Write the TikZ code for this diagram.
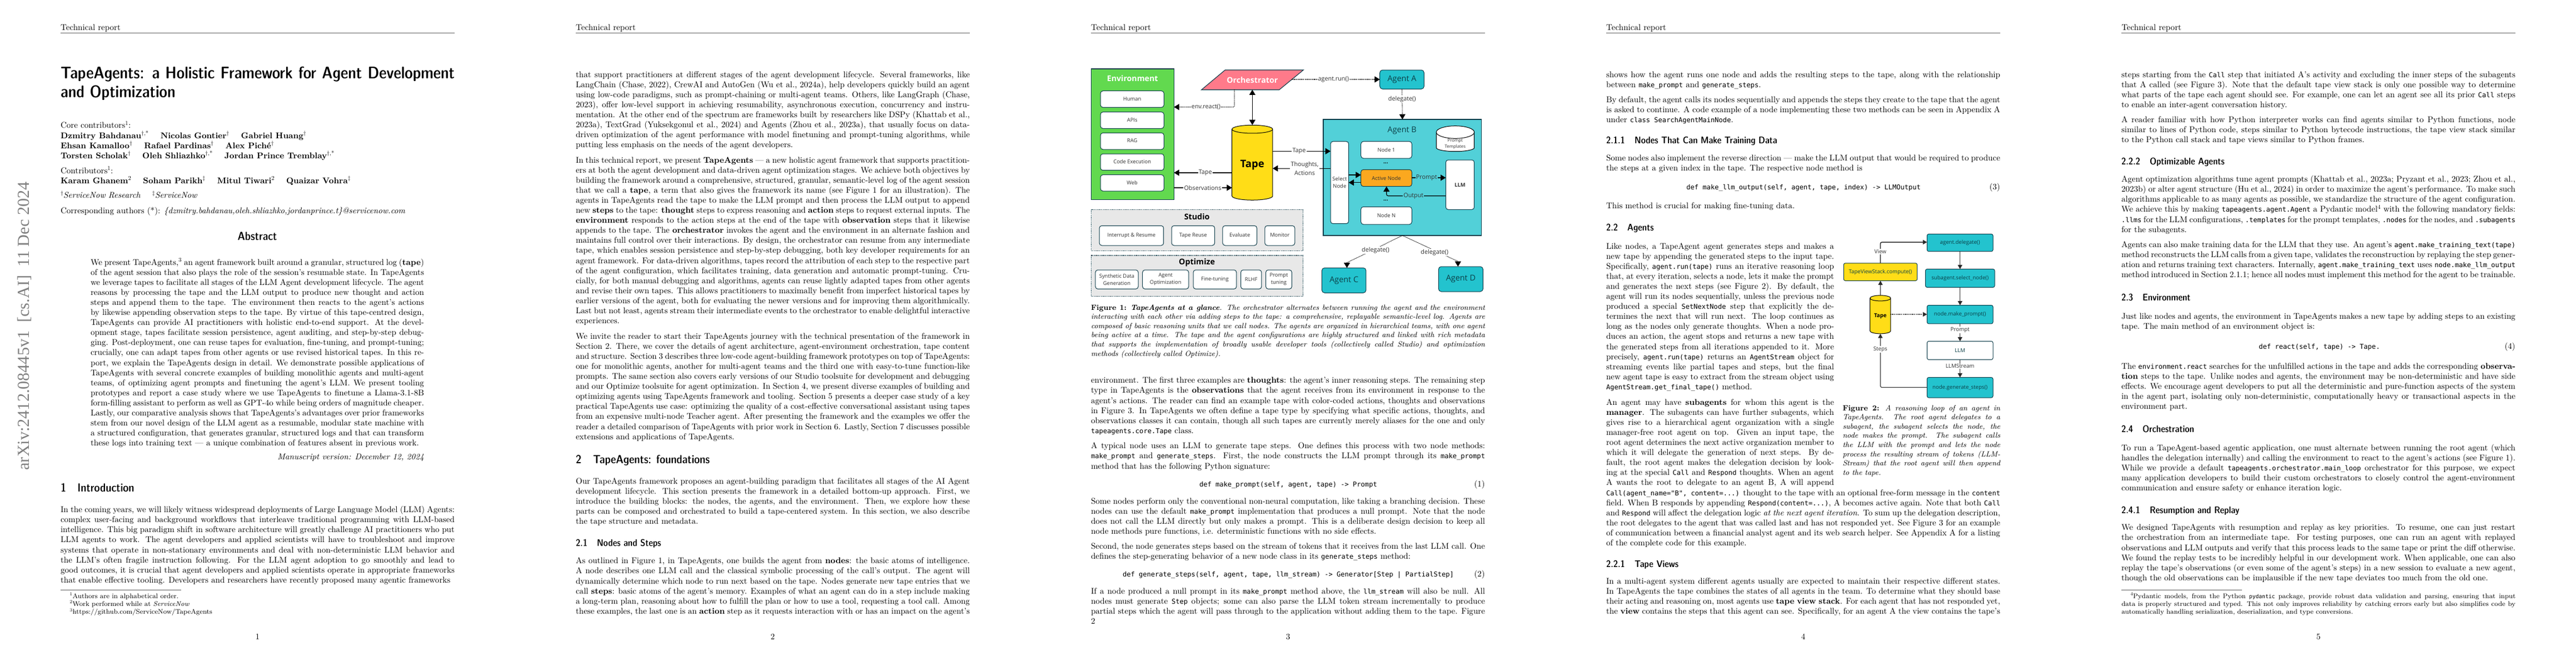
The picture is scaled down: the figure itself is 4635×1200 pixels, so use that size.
\documentclass[tikz,border=0pt]{standalone}
\usepackage{fontspec}
\usetikzlibrary{arrows.meta,shapes.geometric}
\setmainfont{lmroman10-regular.otf}[Ligatures=TeX,BoldFont=lmroman10-bold.otf,ItalicFont=lmroman10-italic.otf,BoldItalicFont=lmroman10-bolditalic.otf]
\newfontfamily\capfont{lmroman9-regular.otf}[Ligatures=TeX,BoldFont=lmroman9-bold.otf,ItalicFont=lmroman9-italic.otf,BoldItalicFont=lmroman10-bolditalic.otf]
\newfontfamily\footfont{lmroman8-regular.otf}[Ligatures=TeX,BoldFont=lmroman8-bold.otf,ItalicFont=lmroman8-italic.otf]
\setmonofont{DejaVu Sans Mono}[Scale=0.8]
\newfontfamily\figfont{Open Sans}
\newfontfamily\stampfont{Liberation Serif}
\newfontfamily\headfont{Latin Modern Sans Demi Cond}
\definecolor{envgreen}{HTML}{62D94F}
\definecolor{orchpink}{HTML}{FF7A8A}
\definecolor{tapeyellow}{HTML}{FFDD17}
\definecolor{agentteal}{HTML}{23C3CE}
\definecolor{agentlight}{HTML}{52D0D8}
\definecolor{activeorange}{HTML}{FBA81F}
\definecolor{panelgray}{HTML}{E8E8E8}
\definecolor{edge}{HTML}{0F3D4A}
\definecolor{figtext}{HTML}{333333}
\definecolor{tealtext}{HTML}{0C4048}
\definecolor{darkline}{HTML}{2A2A2A}
\newcommand{\fsz}[2]{\fontsize{#1}{#2}\selectfont}
\newcommand{\lbk}{\linebreak}
\newcommand{\code}[1]{\texttt{#1}}
\hbadness=10000 \hfuzz=300pt \tolerance=10000
% paragraph placed by the baseline of its first line
\newcommand{\para}[5]{\node[anchor=base west,inner sep=0pt,outer sep=0pt] (#1) at (#2,#3) {\parbox[t]{#4pt}{\fsz{15.09}{18.11}\tolerance=10000\emergencystretch=20pt\parindent=0pt #5\par}};}
\newcommand{\capt}[5]{\node[anchor=base west,inner sep=0pt,outer sep=0pt] (#1) at (#2,#3) {\parbox[t]{#4pt}{\capfont\fsz{13.58}{16.6}\tolerance=10000\emergencystretch=20pt\parindent=0pt #5\par}};}
\newcommand{\oneline}[4]{\node[anchor=base west,inner sep=0pt,outer sep=0pt] (#1) at (#2,#3) {\fsz{15.09}{18.11}#4};}
\newcommand{\hdr}[3]{%
  \node[anchor=base west,inner sep=0pt] (head#1) at (#2,54) {\fsz{15.09}{18.11}Technical report};
  \draw[black!65,line width=0.9pt] (#2,59.3) -- ++(709,0);
  \node[anchor=base,inner sep=0pt] (num#1) at ({#2+354.5},1151) {\fsz{15.09}{18.11}#3};}
% section heads: name, x, dx, y, size, number, title
\newcommand{\sect}[7]{\node[anchor=base west,inner sep=0pt,outer sep=0pt] (#1) at (#2,#4) {\fsz{#5}{#5}\headfont\makebox[#3pt][l]{#6}#7};}
% box from corners: name, x1,y1,x2,y2, style, text
\newcommand{\bx}[7]{\node[#6,minimum width={#4-#2},minimum height={#5-#3}] (#1) at ({(#2+#4)/2},{(#3+#5)/2}) {#7};}
\tikzset{
  base/.style={inner sep=0pt,outer sep=0pt,align=center,font=\figfont\fsz{9.4}{13}\color{figtext}},
  oneln/.style={text height=7.5pt,text depth=2.2pt},
  whitebox/.style={base,draw=edge,fill=white,line width=1pt,rounded corners=4.5pt},
  agentbox/.style={base,draw=edge,fill=agentteal,line width=1pt,rounded corners=5pt,font=\figfont\fsz{14.4}{17}\color{tealtext}},
  flatbox/.style={base,draw=edge,line width=1.2pt},
  panel/.style={base,draw=edge,fill=panelgray,line width=1.1pt,dash pattern=on 1.2pt off 1.2pt},
  edgelabel/.style={inner sep=1.2pt,outer sep=0pt,fill=white,align=center,font=\figfont\fsz{10.8}{15.5}\color{figtext}},
  smalllabel/.style={inner sep=1.2pt,outer sep=0pt,fill=white,align=center,font=\figfont\fsz{9.8}{13}\color{figtext}},
  solidconn/.style={line width=1.1pt,black,-{Triangle[length=9.3pt,width=11pt]},rounded corners=3pt},
  dotconn/.style={line width=1.1pt,black,dash pattern=on 1.2pt off 1.2pt,-{Triangle[length=9.3pt,width=11pt]},rounded corners=2pt},
  bothconn/.style={line width=1.1pt,black,{Triangle[length=9.3pt,width=11pt]}-{Triangle[length=9.3pt,width=11pt]}},
  solidsmall/.style={line width=1.1pt,darkline,-{Triangle[length=7.5pt,width=8pt]},rounded corners=3pt},
  dotsmall/.style={line width=1.1pt,darkline,dash pattern=on 1.2pt off 1.2pt,-{Triangle[length=7.5pt,width=8pt]}},
  tapecyl/.style={cylinder,shape border rotate=90,draw=black,line width=1pt,inner sep=0pt,outer sep=0pt,cylinder uses custom fill,cylinder body fill=tapeyellow,cylinder end fill=tapeyellow},
}
\begin{document}
\begin{tikzpicture}[x=1pt,y=-1pt]
\useasboundingbox (0,0) rectangle (4635,1200);
\fill[white] (0,0) rectangle (4635,1200);

%%%%%%%%%%%%%%%% PAGE 1
\hdr{A}{109}{1}
\node[rotate=90,anchor=base,inner sep=0pt,text=black!50] (stamp) at (52,587) {\stampfont\fsz{30.2}{30.2}arXiv:2412.08445v1\ \ [cs.AI]\ \ 11 Dec 2024};
\node[anchor=base west,inner sep=0pt] (title) at (109,141.6) {\parbox[t]{709pt}{\fsz{30.2}{33.4}\headfont\parindent=0pt TapeAgents: a Holistic Framework for Agent Development\lbk and Optimization\par}};
\oneline{core}{109}{230.8}{Core contributors\textsuperscript{1}:}
\oneline{auA}{109}{249}{\textbf{Dzmitry Bahdanau}\textsuperscript{†,*}\hspace{21pt}\textbf{Nicolas Gontier}\textsuperscript{†}\hspace{21pt}\textbf{Gabriel Huang}\textsuperscript{†}}
\oneline{auB}{109}{267}{\textbf{Ehsan Kamalloo}\textsuperscript{†}\hspace{21pt}\textbf{Rafael Pardinas}\textsuperscript{†}\hspace{21pt}\textbf{Alex Piché}\textsuperscript{†}}
\oneline{auC}{109}{285}{\textbf{Torsten Scholak}\textsuperscript{†}\hspace{21pt}\textbf{Oleh Shliazhko}\textsuperscript{†,*}\hspace{21pt}\textbf{Jordan Prince Tremblay}\textsuperscript{†,*}}
\oneline{contrib}{109}{312}{Contributors\textsuperscript{1}:}
\oneline{auD}{109}{330}{\textbf{Karam Ghanem}\textsuperscript{2}\hspace{21pt}\textbf{Soham Parikh}\textsuperscript{‡}\hspace{21pt}\textbf{Mitul Tiwari}\textsuperscript{2}\hspace{21pt}\textbf{Quaizar Vohra}\textsuperscript{‡}}
\oneline{aff}{109}{356.5}{\textsuperscript{†}\textit{ServiceNow Research}\hspace{21pt}\textsuperscript{‡}\textit{ServiceNow}}
\oneline{corr}{109}{384.6}{Corresponding authors (*): \textit{\{dzmitry.bahdanau,oleh.shliazhko,jordanprince.t\}@servicenow.com}}
\node[anchor=base,inner sep=0pt] (abshead) at (463,432.5) {\fsz{21}{21}\headfont Abstract};
\para{abs}{163}{477}{600}{We present TapeAgents,\textsuperscript{3} an agent framework built around a granular, structured log (\textbf{tape})\lbk
of the agent session that also plays the role of the session’s resumable state. In TapeAgents\lbk
we leverage tapes to facilitate all stages of the LLM Agent development lifecycle. The agent\lbk
reasons by processing the tape and the LLM output to produce new thought and action\lbk
steps and append them to the tape. The environment then reacts to the agent’s actions\lbk
by likewise appending observation steps to the tape. By virtue of this tape-centred design,\lbk
TapeAgents can provide AI practitioners with holistic end-to-end support. At the devel-\lbk
opment stage, tapes facilitate session persistence, agent auditing, and step-by-step debug-\lbk
ging. Post-deployment, one can reuse tapes for evaluation, fine-tuning, and prompt-tuning;\lbk
crucially, one can adapt tapes from other agents or use revised historical tapes. In this re-\lbk
port, we explain the TapeAgents design in detail. We demonstrate possible applications of\lbk
TapeAgents with several concrete examples of building monolithic agents and multi-agent\lbk
teams, of optimizing agent prompts and finetuning the agent’s LLM. We present tooling\lbk
prototypes and report a case study where we use TapeAgents to finetune a Llama-3.1-8B\lbk
form-filling assistant to perform as well as GPT-4o while being orders of magnitude cheaper.\lbk
Lastly, our comparative analysis shows that TapeAgents’s advantages over prior frameworks\lbk
stem from our novel design of the LLM agent as a resumable, modular state machine with\lbk
a structured configuration, that generates granular, structured logs and that can transform\lbk
these logs into training text — a unique combination of features absent in previous work.}
\node[anchor=base east,inner sep=0pt] (msv) at (763,827) {\fsz{15.09}{18.11}\textit{Manuscript version: December 12, 2024}};
\sect{secA}{109}{30.4}{885.5}{21.1}{1}{Introduction}
\para{intro}{109}{922.6}{709}{In the coming years, we will likely witness widespread deployments of Large Language Model (LLM) Agents:\lbk
complex user-facing and background workflows that interleave traditional programming with LLM-based\lbk
intelligence. This big paradigm shift in software architecture will greatly challenge AI practitioners who put\lbk
LLM agents to work. The agent developers and applied scientists will have to troubleshoot and improve\lbk
systems that operate in non-stationary environments and deal with non-deterministic LLM behavior and\lbk
the LLM’s often fragile instruction following. For the LLM agent adoption to go smoothly and lead to\lbk
good outcomes, it is crucial that agent developers and applied scientists operate in appropriate frameworks\lbk
that enable effective tooling. Developers and researchers have recently proposed many agentic frameworks}
\draw[black!65,line width=0.7pt] (109,1062.7) -- (326,1062.7);
\node[anchor=base west,inner sep=0pt] (fnA) at (125.5,1077) {\footfont\fsz{12.07}{14.2}\textsuperscript{1}Authors are in alphabetical order.};
\node[anchor=base west,inner sep=0pt] (fnB) at (125.5,1091.3) {\footfont\fsz{12.07}{14.2}\textsuperscript{2}Work performed while at \textit{ServiceNow}};
\node[anchor=base west,inner sep=0pt] (fnC) at (125.5,1105.5) {\footfont\fsz{12.07}{14.2}\textsuperscript{3}https://github.com/ServiceNow/TapeAgents};

%%%%%%%%%%%%%%%% PAGE 2
\hdr{B}{1036}{2}
\para{pbA}{1036}{139}{709}{that support practitioners at different stages of the agent development lifecycle. Several frameworks, like\lbk
LangChain (Chase, 2022), CrewAI and AutoGen (Wu et al., 2024a), help developers quickly build an agent\lbk
using low-code paradigms, such as prompt-chaining or multi-agent teams. Others, like LangGraph (Chase,\lbk
2023), offer low-level support in achieving resumability, asynchronous execution, concurrency and instru-\lbk
mentation. At the other end of the spectrum are frameworks built by researchers like DSPy (Khattab et al.,\lbk
2023a), TextGrad (Yuksekgonul et al., 2024) and Agents (Zhou et al., 2023a), that usually focus on data-\lbk
driven optimization of the agent performance with model finetuning and prompt-tuning algorithms, while\lbk
putting less emphasis on the needs of the agent developers.}
\para{pbB}{1036}{293}{709}{In this technical report, we present \textbf{TapeAgents} — a new holistic agent framework that supports practition-\lbk
ers at both the agent development and data-driven agent optimization stages. We achieve both objectives by\lbk
building the framework around a comprehensive, structured, granular, semantic-level log of the agent session\lbk
that we call a \textbf{tape}, a term that also gives the framework its name (see Figure 1 for an illustration). The\lbk
agents in TapeAgents read the tape to make the LLM prompt and then process the LLM output to append\lbk
new \textbf{steps} to the tape: \textbf{thought} steps to express reasoning and \textbf{action} steps to request external inputs. The\lbk
\textbf{environment} responds to the action steps at the end of the tape with \textbf{observation} steps that it likewise\lbk
appends to the tape. The \textbf{orchestrator} invokes the agent and the environment in an alternate fashion and\lbk
maintains full control over their interactions. By design, the orchestrator can resume from any intermediate\lbk
tape, which enables session persistence and step-by-step debugging, both key developer requirements for an\lbk
agent framework. For data-driven algorithms, tapes record the attribution of each step to the respective part\lbk
of the agent configuration, which facilitates training, data generation and automatic prompt-tuning. Cru-\lbk
cially, for both manual debugging and algorithms, agents can reuse lightly adapted tapes from other agents\lbk
and revise their own tapes. This allows practitioners to maximally benefit from imperfect historical tapes by\lbk
earlier versions of the agent, both for evaluating the newer versions and for improving them algorithmically.\lbk
Last but not least, agents stream their intermediate events to the orchestrator to enable delightful interactive\lbk
experiences.}
\para{pbC}{1036}{610}{709}{We invite the reader to start their TapeAgents journey with the technical presentation of the framework in\lbk
Section 2. There, we cover the details of agent architecture, agent-environment orchestration, tape content\lbk
and structure. Section 3 describes three low-code agent-building framework prototypes on top of TapeAgents:\lbk
one for monolithic agents, another for multi-agent teams and the third one with easy-to-tune function-like\lbk
prompts. The same section also covers early versions of our Studio toolsuite for development and debugging\lbk
and our Optimize toolsuite for agent optimization. In Section 4, we present diverse examples of building and\lbk
optimizing agents using TapeAgents framework and tooling. Section 5 presents a deeper case study of a key\lbk
practical TapeAgents use case: optimizing the quality of a cost-effective conversational assistant using tapes\lbk
from an expensive multi-node Teacher agent. After presenting the framework and the examples we offer the\lbk
reader a detailed comparison of TapeAgents with prior work in Section 6. Lastly, Section 7 discusses possible\lbk
extensions and applications of TapeAgents.}
\sect{secB}{1036}{31}{834.6}{21.1}{2}{TapeAgents: foundations}
\para{pbD}{1036}{871}{709}{Our TapeAgents framework proposes an agent-building paradigm that facilitates all stages of the AI Agent\lbk
development lifecycle. This section presents the framework in a detailed bottom-up approach. First, we\lbk
introduce the building blocks: the nodes, the agents, and the environment. Then, we explore how these\lbk
parts can be composed and orchestrated to build a tape-centered system. In this section, we also describe\lbk
the tape structure and metadata.}
\sect{secC}{1036}{38}{983}{17.3}{2.1}{Nodes and Steps}
\para{pbE}{1036}{1014.8}{709}{As outlined in Figure 1, in TapeAgents, one builds the agent from \textbf{nodes}: the basic atoms of intelligence.\lbk
A node describes one LLM call and the classical symbolic processing of the call’s output. The agent will\lbk
dynamically determine which node to run next based on the tape. Nodes generate new tape entries that we\lbk
call \textbf{steps}: basic atoms of the agent’s memory. Examples of what an agent can do in a step include making\lbk
a long-term plan, reasoning about how to fulfill the plan or how to use a tool, requesting a tool call. Among\lbk
these examples, the last one is an \textbf{action} step as it requests interaction with or has an impact on the agent’s}

%%%%%%%%%%%%%%%% PAGE 3
\hdr{C}{1963}{3}
% Figure 1
\bx{env}{1963.8}{124}{2112.3}{359.3}{flatbox,fill=envgreen}{}
\node[base,font=\figfont\bfseries\fsz{14.2}{17}\color{white}] (envtitle) at (2037.7,140.7) {Environment};
\bx{human}{1980}{163.7}{2094.3}{193.3}{whitebox,oneln}{Human}
\bx{apis}{1980}{201.7}{2094.3}{231.3}{whitebox,oneln}{APIs}
\bx{rag}{1980}{239.3}{2094.3}{269}{whitebox,oneln}{RAG}
\bx{codeex}{1980}{277}{2094.3}{306.7}{whitebox,oneln}{Code Execution}
\bx{web}{1980}{314.7}{2094.3}{344}{whitebox,oneln}{Web}
\draw[edge,line width=1.1pt,fill=orchpink] (2204.3,126) -- (2345.2,126) -- (2301.7,161.7) -- (2161.7,161.7) -- cycle;
\node[base,font=\figfont\bfseries\fsz{14.2}{17}\color{white},minimum width=140pt,minimum height=35.7pt] (orch) at (2253.3,143.8) {Orchestrator};
\node[tapecyl,minimum width=73.3pt,minimum height=135pt,aspect=0.34,font=\figfont\bfseries\fsz{18.6}{20}\color{black}] (tape) at (2253.3,296.7) {\raisebox{-2.6pt}{Tape}};
\bx{agentA}{2482.7}{126}{2562.3}{160.3}{agentbox}{Agent A}
\bx{agentB}{2381}{215}{2665.7}{424}{flatbox,fill=agentlight}{}
\node[base,font=\figfont\fsz{14.4}{17}\color{tealtext}] (agentBtitle) at (2522.7,234.7) {Agent B};
\draw[black,line width=1pt,fill=white] (2584.3,238) -- (2584.3,266) arc[start angle=180,end angle=360,x radius=34.2pt,y radius=6.7pt] -- (2652.7,238);
\draw[black,line width=1pt,fill=white] (2618.5,238) ellipse[x radius=34.2pt,y radius=11.3pt];
\node[base,font=\figfont\fsz{7.8}{10.7}\color{figtext}] (ptpl) at (2618.3,259.3) {Prompt\\Templates};
\bx{select}{2394}{254.7}{2426.7}{402.7}{whitebox}{Select\\Node}
\bx{nodeone}{2448.7}{254.7}{2540.3}{285}{whitebox}{Node 1}
\node[base,font=\figfont\bfseries\fsz{10}{10}] (dotsA) at (2493.3,294) {...};
\bx{active}{2448.7}{305.3}{2540.3}{335.7}{whitebox,fill=activeorange}{Active Node}
\node[base,font=\figfont\bfseries\fsz{10}{10}] (dotsB) at (2493.3,360.7) {...};
\bx{noden}{2448.7}{372.3}{2540.3}{404}{whitebox}{Node N}
\bx{llm}{2601.3}{288}{2652.7}{377.3}{whitebox,font=\figfont\bfseries\fsz{9.4}{13}\color{figtext}}{LLM}
\bx{agentC}{2378.4}{482.3}{2457.9}{527.3}{agentbox}{Agent C}
\bx{agentD}{2588.3}{480}{2668.4}{525}{agentbox}{Agent D}
% connector anchors
\coordinate (orchDown) at (2221,161.7);
\coordinate (reactBend) at (2221,192.7);
\coordinate (orchRight) at (2323.5,143);
\coordinate (tapeTop) at (2253.3,225);
\coordinate (rowTapeR) at (2290,272.3);
\coordinate (rowThought) at (2290,303.3);
\coordinate (rowTapeL) at (2216.7,311);
\coordinate (rowObs) at (2216.7,338);
\coordinate (rowSelA) at (2426.7,315);
\coordinate (rowSelB) at (2426.7,328.7);
\coordinate (rowPrompt) at (2540.3,320);
\coordinate (outBend) at (2494.7,352.7);
\coordinate (outEnd) at (2494.7,335.7);
\coordinate (cKink) at (2423.5,473);
\coordinate (cTop) at (2423.5,482.3);
\coordinate (dKink) at (2623.3,470.7);
\coordinate (dTop) at (2623.3,480);
% connectors
\draw[bothconn] (orch.south) -- (tapeTop);
\draw[dotconn] (orchDown) -- (reactBend) -- (env.east |- reactBend);
\draw[dotconn] (orchRight) -- (agentA.west |- orchRight);
\draw[dotconn] (agentA.south) -- (agentB.north);
\draw[solidconn] (rowTapeL) -- (env.east |- rowTapeL);
\draw[solidconn] (env.east |- rowObs) -- (rowObs);
\draw[solidconn] (rowTapeR) -- (select.west |- rowTapeR);
\draw[solidconn] (select.west |- rowThought) -- (rowThought);
\draw[solidconn] (rowSelA) -- (active.west |- rowSelA);
\draw[solidconn] (active.west |- rowSelB) -- (rowSelB);
\draw[solidconn] (rowPrompt) -- (llm.west |- rowPrompt);
\draw[solidconn] (llm.west |- outBend) -- (outBend) -- (outEnd);
\draw[dotconn,sharp corners] (agentB.south) -- (cKink) -- (cTop);
\draw[dotconn,sharp corners] (agentB.south) -- (dKink) -- (dTop);
% connector labels
\node[edgelabel] (lreact) at (2170,192.7) {env.react()};
\node[edgelabel] (lrun) at (2399.3,142.7) {agent.run()};
\node[edgelabel] (ldelA) at (2522.7,178.7) {delegate()};
\node[edgelabel] (ltapeL) at (2168.7,310.7) {Tape};
\node[edgelabel] (lobs) at (2164,338) {Observations};
\node[edgelabel] (ltapeR) at (2337.5,272.3) {Tape};
\node[edgelabel] (lthought) at (2347.5,303.3) {Thoughts,\\Actions};
\node[edgelabel,fill=agentlight] (lprompt) at (2566.7,320) {Prompt};
\node[edgelabel,fill=agentlight] (loutput) at (2543.3,352.7) {Output};
\node[edgelabel] (ldelC) at (2475,450.7) {delegate()};
\node[edgelabel] (ldelD) at (2581.2,454.3) {delegate()};
% Studio
\bx{studio}{1963.8}{377.3}{2344.6}{451.3}{panel}{}
\node[base,font=\figfont\bfseries\fsz{14.3}{17}\color{black}] (studiot) at (2153.6,390) {Studio};
\bx{sA}{1978}{406.3}{2093.7}{442}{whitebox,oneln}{Interrupt \& Resume}
\bx{sB}{2108}{406.3}{2185.6}{442}{whitebox,oneln}{Tape Reuse}
\bx{sC}{2199.9}{406.3}{2261.5}{442}{whitebox,oneln}{Evaluate}
\bx{sD}{2275.8}{406.3}{2329.8}{442}{whitebox,oneln}{Monitor}
% Optimize
\bx{optimize}{1963.8}{460}{2344.6}{533.7}{panel}{}
\node[base,font=\figfont\bfseries\fsz{14.3}{17}\color{black}] (optt) at (2153.6,473) {Optimize};
\bx{oA}{1970.9}{486}{2048}{520.4}{whitebox}{Synthetic Data\\Generation}
\bx{oB}{2055.7}{486}{2138.8}{520.4}{whitebox}{Agent\\Optimization}
\bx{oC}{2147}{486}{2224.8}{520.4}{whitebox}{Fine-tuning}
\bx{oD}{2232.5}{486}{2269.9}{520.4}{whitebox}{RLHF}
\bx{oE}{2277.5}{486}{2324.4}{520.4}{whitebox}{Prompt\\tuning}
\capt{capA}{1963}{558}{709}{\textbf{Figure 1:} \textbf{\textit{TapeAgents at a glance}}\textit{. The orchestrator alternates between running the agent and the environment\lbk
interacting with each other via adding steps to the tape: a comprehensive, replayable semantic-level log. Agents are\lbk
composed of basic reasoning units that we call nodes. The agents are organized in hierarchical teams, with one agent\lbk
being active at a time. The tape and the agent configurations are highly structured and linked with rich metadata\lbk
that supports the implementation of broadly usable developer tools (collectively called Studio) and optimization\lbk
methods (collectively called Optimize).}}
\para{pcA}{1963}{689.8}{709}{environment. The first three examples are \textbf{thoughts}: the agent’s inner reasoning steps. The remaining step\lbk
type in TapeAgents is the \textbf{observations} that the agent receives from its environment in response to the\lbk
agent’s actions. The reader can find an example tape with color-coded actions, thoughts and observations\lbk
in Figure 3. In TapeAgents we often define a tape type by specifying what specific actions, thoughts, and\lbk
observations classes it can contain, though all such tapes are currently merely aliases for the one and only\lbk
\code{tapeagents.core.Tape} class.}
\para{pcB}{1963}{807.8}{709}{A typical node uses an LLM to generate tape steps. One defines this process with two node methods:\lbk
\code{make\_prompt} and \code{generate\_steps}. First, the node constructs the LLM prompt through its \code{make\_prompt}\lbk
method that has the following Python signature:}
\oneline{eqA}{2158}{876}{\code{def make\_prompt(self, agent, tape) -> Prompt}}
\node[anchor=base east,inner sep=0pt] (eqnA) at (2672,876) {\fsz{15.09}{18.11}(1)};
\para{pcC}{1963}{907}{709}{Some nodes perform only the conventional non-neural computation, like taking a branching decision. These\lbk
nodes can use the default \code{make\_prompt} implementation that produces a null prompt. Note that the node\lbk
does not call the LLM directly but only makes a prompt. This is a deliberate design decision to keep all\lbk
node methods pure functions, i.e. deterministic functions with no side effects.}
\para{pcD}{1963}{988.3}{709}{Second, the node generates steps based on the stream of tokens that it receives from the last LLM call. One\lbk
defines the step-generating behavior of a new node class in its \code{generate\_steps} method:}
\oneline{eqB}{2020}{1038.8}{\code{def generate\_steps(self, agent, tape, llm\_stream) -> Generator[Step | PartialStep]}}
\node[anchor=base east,inner sep=0pt] (eqnB) at (2672,1038.8) {\fsz{15.09}{18.11}(2)};
\para{pcE}{1963}{1069.5}{709}{If a node produced a null prompt in its \code{make\_prompt} method above, the \code{llm\_stream} will also be null. All\lbk
nodes must generate \code{Step} objects; some can also parse the LLM token stream incrementally to produce\lbk
partial steps which the agent will pass through to the application without adding them to the tape. Figure 2}

%%%%%%%%%%%%%%%% PAGE 4
\hdr{D}{2890}{4}
\para{pdA}{2890}{139}{709}{shows how the agent runs one node and adds the resulting steps to the tape, along with the relationship\lbk
between \code{make\_prompt} and \code{generate\_steps}.}
\para{pdB}{2890}{184}{709}{By default, the agent calls its nodes sequentially and appends the steps they create to the tape that the agent\lbk
is asked to continue. A code example of a node implementing these two methods can be seen in Appendix A\lbk
under \code{class SearchAgentMainNode}.}
\sect{secD}{2890}{51}{258.7}{17.3}{2.1.1}{Nodes That Can Make Training Data}
\para{pdC}{2890}{289}{709}{Some nodes also implement the reverse direction — make the LLM output that would be required to produce\lbk
the steps at a given index in the tape. The respective node method is}
\oneline{eqC}{3034.4}{341.8}{\code{def make\_llm\_output(self, agent, tape, index) -> LLMOutput}}
\node[anchor=base east,inner sep=0pt] (eqnC) at (3599,341.8) {\fsz{15.09}{18.11}(3)};
\para{pdD}{2890}{375.4}{709}{This method is crucial for making fine-tuning data.}
\sect{secE}{2890}{38}{415.6}{17.3}{2.2}{Agents}
\para{pdE}{2890}{448}{410}{Like nodes, a TapeAgent agent generates steps and makes a\lbk
new tape by appending the generated steps to the input tape.\lbk
Specifically, \code{agent.run(tape)} runs an iterative reasoning loop\lbk
that, at every iteration, selects a node, lets it make the prompt\lbk
and generates the next steps (see Figure 2). By default, the\lbk
agent will run its nodes sequentially, unless the previous node\lbk
produced a special \code{SetNextNode} step that explicitly the de-\lbk
termines the next that will run next. The loop continues as\lbk
long as the nodes only generate thoughts. When a node pro-\lbk
duces an action, the agent stops and returns a new tape with\lbk
the generated steps from all iterations appended to it. More\lbk
precisely, \code{agent.run(tape)} returns an \code{AgentStream} object for\lbk
streaming events like partial tapes and steps, but the final\lbk
new agent tape is easy to extract from the stream object using\lbk
\code{AgentStream.get\_final\_tape()} method.}
\para{pdF}{2890}{729}{410}{An agent may have \textbf{subagents} for whom this agent is the\lbk
\textbf{manager}. The subagents can have further subagents, which\lbk
gives rise to a hierarchical agent organization with a single\lbk
manager-free root agent on top. Given an input tape, the\lbk
root agent determines the next active organization member to\lbk
which it will delegate the generation of next steps. By de-\lbk
fault, the root agent makes the delegation decision by look-\lbk
ing at the special \code{Call} and \code{Respond} thoughts. When an agent\lbk
A wants the root to delegate to an agent B, A will append\lbk\null}
\para{pdG}{2890}{892}{709}{\code{Call(agent\_name="B", content=...)} thought to the tape with an optional free-form message in the \code{content}\lbk
field. When B responds by appending \code{Respond(content=...)}, A becomes active again. Note that both \code{Call}\lbk
and \code{Respond} will affect the delegation logic \textit{at the next agent iteration}. To sum up the delegation description,\lbk
the root delegates to the agent that was called last and has not responded yet. See Figure 3 for an example\lbk
of communication between a financial analyst agent and its web search helper. See Appendix A for a listing\lbk
of the complete code for this example.}
\sect{secF}{2890}{51}{1021}{17.3}{2.2.1}{Tape Views}
\para{pdH}{2890}{1051.2}{709}{In a multi-agent system different agents usually are expected to maintain their respective different states.\lbk
In TapeAgents the tape combines the states of all agents in the team. To determine what they should base\lbk
their acting and reasoning on, most agents use \textbf{tape view stack}. For each agent that has not responded yet,\lbk
the \textbf{view} contains the steps that this agent can see. Specifically, for an agent A the view contains the tape’s}
% Figure 2
\tikzset{fg/.style={base,font=\figfont\fsz{9.6}{12}\color{tealtext}}}
\bx{delegate}{3467.3}{421.4}{3586}{452.7}{fg,draw=edge,fill=agentteal,line width=1pt,rounded corners=3pt}{agent.delegate()}
\bx{selnode}{3464.4}{484.5}{3589}{517.4}{fg,draw=edge,fill=agentteal,line width=1pt,rounded corners=3pt}{subagent.select\_node()}
\bx{mkprompt}{3467.3}{549.6}{3586}{582.9}{fg,draw=edge,fill=agentteal,line width=1pt,rounded corners=3pt}{node.make\_prompt()}
\bx{llmb}{3467.3}{614.5}{3586}{647.5}{fg,draw=edge,fill=white,line width=1pt,rounded corners=3pt}{LLM}
\bx{genstep}{3467.3}{679.6}{3586}{716}{fg,draw=edge,fill=agentteal,line width=1pt,rounded corners=3pt}{node.generate\_steps()}
\bx{tvs}{3317.3}{473.8}{3449.6}{505.5}{fg,draw=edge,fill=tapeyellow,line width=1pt,rounded corners=3pt}{TapeViewStack.compute()}
\node[tapecyl,minimum width=37.3pt,minimum height=69pt,aspect=0.45,font=\figfont\bfseries\fsz{9.6}{12}\color{black}] (tapeb) at (3383.3,569.1) {Tape};
\coordinate (viewBend) at (3383.3,436);
\coordinate (tapeBtop) at (3383.3,532);
\coordinate (tapeBbot) at (3383.3,601);
\coordinate (tapeBright) at (3402,566);
\coordinate (stepsRow) at (3383.3,697.6);
\draw[solidsmall,line width=1.5pt] (tvs.north) -- (viewBend) -- (delegate.west |- viewBend);
\draw[solidsmall] (tapeBtop) -- (tvs.south);
\draw[solidsmall] (delegate.south) -- (delegate.south |- selnode.north);
\draw[solidsmall] (selnode.south) -- (selnode.south |- mkprompt.north);
\draw[solidsmall] (mkprompt.south) -- (llmb.north);
\draw[solidsmall] (llmb.south) -- (genstep.north);
\draw[dotsmall] (tapeBright) -- (mkprompt.west |- tapeBright);
\draw[solidsmall] (genstep.west |- stepsRow) -- (stepsRow) -- (tapeBbot);
\node[smalllabel] (lview) at (3383.3,453) {View};
\node[smalllabel] (lpromptb) at (3526.7,594) {Prompt};
\node[smalllabel] (lstream) at (3526.7,659.3) {LLMStream};
\node[smalllabel] (lsteps) at (3383.3,629) {Steps};
\capt{capB}{3315.5}{739}{283.5}{\textbf{Figure 2:} \textit{A reasoning loop of an agent in\lbk
TapeAgents. The root agent delegates to a\lbk
subagent, the subagent selects the node, the\lbk
node makes the prompt. The subagent calls\lbk
the LLM with the prompt and lets the node\lbk
process the resulting stream of tokens (LLM-\lbk
Stream) that the root agent will then append\lbk
to the tape.}}

%%%%%%%%%%%%%%%% PAGE 5
\hdr{E}{3817}{5}
\para{peA}{3817}{139}{709}{steps starting from the \code{Call} step that initiated A’s activity and excluding the inner steps of the subagents\lbk
that A called (see Figure 3). Note that the default tape view stack is only one possible way to determine\lbk
what parts of the tape each agent should see. For example, one can let an agent see all its prior \code{Call} steps\lbk
to enable an inter-agent conversation history.}
\para{peB}{3817}{220.4}{709}{A reader familiar with how Python interpreter works can find agents similar to Python functions, node\lbk
similar to lines of Python code, steps similar to Python bytecode instructions, the tape view stack similar\lbk
to the Python call stack and tape views similar to Python frames.}
\sect{secG}{3817}{51}{296.6}{17.3}{2.2.2}{Optimizable Agents}
\para{peC}{3817}{327.6}{709}{Agent optimization algorithms tune agent prompts (Khattab et al., 2023a; Pryzant et al., 2023; Zhou et al.,\lbk
2023b) or alter agent structure (Hu et al., 2024) in order to maximize the agent’s performance. To make such\lbk
algorithms applicable to as many agents as possible, we standardize the structure of the agent configuration.\lbk
We achieve this by making \code{tapeagents.agent.Agent} a Pydantic model\textsuperscript{4} with the following mandatory fields:\lbk
\code{.llms} for the LLM configurations, \code{.templates} for the prompt templates, \code{.nodes} for the nodes, and \code{.subagents}\lbk
for the subagents.}
\para{peD}{3817}{445.4}{709}{Agents can also make training data for the LLM that they use. An agent’s \code{agent.make\_training\_text(tape)}\lbk
method reconstructs the LLM calls from a given tape, validates the reconstruction by replaying the step gener-\lbk
ation and returns training text characters. Internally, \code{agent.make\_training\_text} uses \code{node.make\_llm\_output}\lbk
method introduced in Section 2.1.1; hence all nodes must implement this method for the agent to be trainable.}
\sect{secH}{3817}{38}{541.9}{17.3}{2.3}{Environment}
\para{peE}{3817}{574.8}{709}{Just like nodes and agents, the environment in TapeAgents makes a new tape by adding steps to an existing\lbk
tape. The main method of an environment object is:}
\oneline{eqD}{4064.2}{628.7}{\code{def react(self, tape) -> Tape.}}
\node[anchor=base east,inner sep=0pt] (eqnD) at (4526,628.7) {\fsz{15.09}{18.11}(4)};
\para{peF}{3817}{664}{709}{The \code{environment.react} searches for the unfulfilled actions in the tape and adds the corresponding \textbf{observa-\lbk
tion} steps to the tape. Unlike nodes and agents, the environment may be non-deterministic and have side\lbk
effects. We encourage agent developers to put all the deterministic and pure-function aspects of the system\lbk
in the agent part, isolating only non-deterministic, computationally heavy or transactional aspects in the\lbk
environment part.}
\sect{secI}{3817}{38}{778.3}{17.3}{2.4}{Orchestration}
\para{peG}{3817}{811.2}{709}{To run a TapeAgent-based agentic application, one must alternate between running the root agent (which\lbk
handles the delegation internally) and calling the environment to react to the agent’s actions (see Figure 1).\lbk
While we provide a default \code{tapeagents.orchestrator.main\_loop} orchestrator for this purpose, we expect\lbk
many application developers to build their custom orchestrators to closely control the agent-environment\lbk
communication and ensure safety or enhance iteration logic.}
\sect{secJ}{3817}{51}{924}{17.3}{2.4.1}{Resumption and Replay}
\para{peH}{3817}{954.8}{709}{We designed TapeAgents with resumption and replay as key priorities. To resume, one can just restart\lbk
the orchestration from an intermediate tape. For testing purposes, one can run an agent with replayed\lbk
observations and LLM outputs and verify that this process leads to the same tape or print the diff otherwise.\lbk
We found the replay tests to be incredibly helpful in our development work. When applicable, one can also\lbk
replay the tape’s observations (or even some of the agent’s steps) in a new session to evaluate a new agent,\lbk
though the old observations can be implausible if the new tape deviates too much from the old one.}
\draw[black!65,line width=0.7pt] (3817,1062.7) -- (4034,1062.7);
\node[anchor=base west,inner sep=0pt] (fnD) at (3817,1077.2) {\parbox[t]{709pt}{\footfont\fsz{12.07}{14.2}\parindent=16pt\textsuperscript{4}Pydantic models, from the Python \code{pydantic} package, provide robust data validation and parsing, ensuring that input\lbk
data is properly structured and typed. This not only improves reliability by catching errors early but also simplifies code by\lbk
automatically handling serialization, deserialization, and type conversions.\par}};
\end{tikzpicture}
\end{document}
